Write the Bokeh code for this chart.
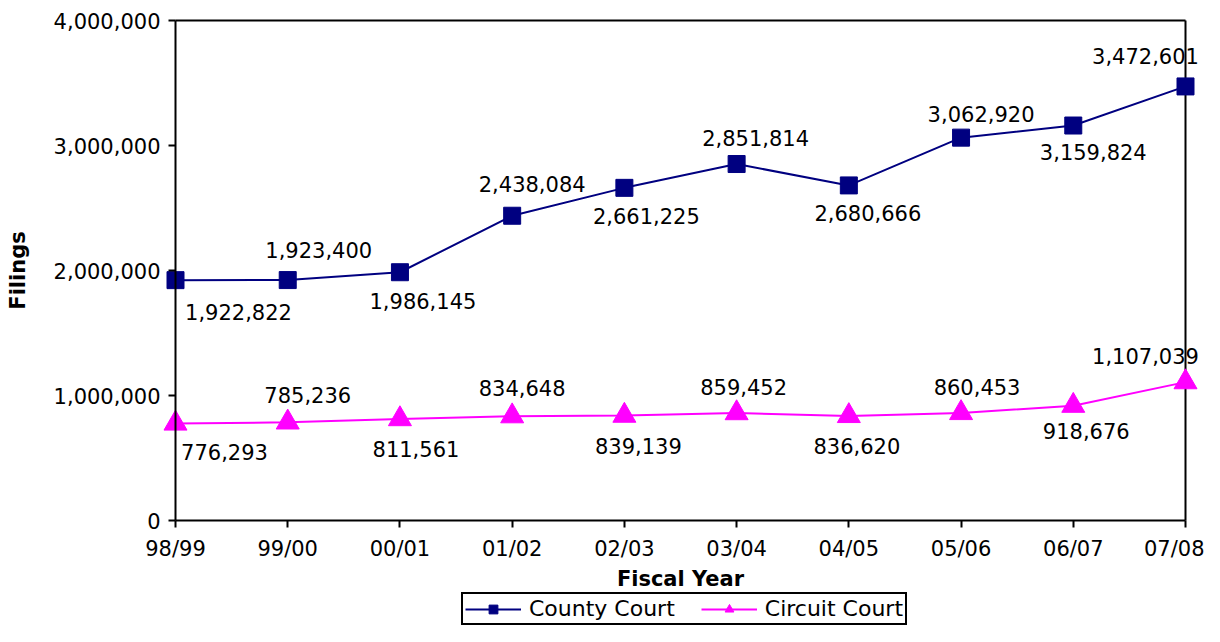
from bokeh.plotting import figure
from bokeh.models import (ColumnDataSource, FixedTicker, NumeralTickFormatter,
                          Legend, LegendItem, Range1d)
from bokeh.core.properties import value
from bokeh.embed import file_html
from bokeh.resources import INLINE

# ---------------- data ----------------
categories = ["98/99", "99/00", "00/01", "01/02", "02/03",
              "03/04", "04/05", "05/06", "06/07", "07/08"]
county_court = [1922822, 1923400, 1986145, 2438084, 2661225,
                2851814, 2680666, 3062920, 3159824, 3472601]
circuit_court = [776293, 785236, 811561, 834648, 839139,
                 859452, 836620, 860453, 918676, 1107039]
y_ticks = [0, 1000000, 2000000, 3000000, 4000000]

# ---------------- label placement (screen px, style only) ----------------
county_dx = [63, 31, 23, 20, 22, 19, 19, 20, 20, -40]
county_dy = [32, -30, 29, -32, 28, -26, 28, -24, 26, -30]
circuit_dx = [49, 20, 16, 10, 14, 7, 8, 16, 13, -40]
circuit_dy = [29, -27, 30, -28, 30, -26, 30, -26, 25, -26]

FONT = "DejaVu Sans"
NAVY = "#000080"
MAGENTA = "#FF00FF"

# layout constants (pixels); the frame fills the whole figure and the
# axes are pinned to the data origin
W, H = 1204, 626
AXIS_X = 175              # screen x of the first category
LAST_X = 1185             # screen x of the last category
PLOT_TOP = 20             # screen y of the top tick
PLOT_BOTTOM = 520         # screen y of zero

n = len(categories)
xs = list(range(n))
y_top = y_ticks[-1]
px_per_x = (LAST_X - AXIS_X) / (n - 1)
px_per_y = (PLOT_BOTTOM - PLOT_TOP) / y_top
x_start = -AXIS_X / px_per_x
x_end = (n - 1) + (W - LAST_X) / px_per_x
y_start = -(H - PLOT_BOTTOM) / px_per_y
y_end = y_top + PLOT_TOP / px_per_y


def fmt(v):
    return f"{v:,}"


county_src = ColumnDataSource(dict(x=xs, y=county_court,
                                   label=[fmt(v) for v in county_court],
                                   dx=county_dx, dy=county_dy))
circuit_src = ColumnDataSource(dict(x=xs, y=circuit_court,
                                    label=[fmt(v) for v in circuit_court],
                                    dx=circuit_dx, dy=circuit_dy))

p = figure(width=W, height=H, output_backend="svg", toolbar_location=None,
           x_range=Range1d(x_start, x_end), y_range=Range1d(y_start, y_end),
           min_border_left=0, min_border_top=0,
           min_border_right=0, min_border_bottom=0)

p.background_fill_color = "white"
p.border_fill_color = "white"
p.outline_line_color = None
p.xgrid.visible = False
p.ygrid.visible = False

# plot-area border (top and right)
p.segment(x0=[0, n - 1], y0=[y_top, 0], x1=[n - 1, n - 1], y1=[y_top, y_top],
          line_color="black", line_width=2)

# lines + markers
cl = p.line("x", "y", source=county_src, line_color=NAVY, line_width=2)
cm = p.scatter("x", "y", source=county_src, marker="square", size=17,
               fill_color=NAVY, line_color=NAVY)
rl = p.line("x", "y", source=circuit_src, line_color=MAGENTA, line_width=2)
rm = p.scatter("x", "y", source=circuit_src, marker="triangle", size=23,
               fill_color=MAGENTA, line_color=MAGENTA)

# data labels
for src in (county_src, circuit_src):
    p.text("x", "y", text="label", source=src, x_offset="dx", y_offset="dy",
           text_align="center", text_baseline="middle",
           text_font=value(FONT), text_font_size="21px", text_color="black")

# axes
p.xaxis.ticker = FixedTicker(ticks=xs)
p.xaxis.major_label_overrides = {i: c for i, c in enumerate(categories)}
p.xaxis.bounds = (0, n - 1)
p.xaxis.fixed_location = 0
p.yaxis.ticker = FixedTicker(ticks=y_ticks)
p.yaxis.formatter = NumeralTickFormatter(format="0,0")
p.yaxis.bounds = (0, y_top)
p.yaxis.fixed_location = 0

for ax in (p.xaxis[0], p.yaxis[0]):
    ax.axis_line_color = "black"
    ax.axis_line_width = 2
    ax.major_tick_line_color = "black"
    ax.major_tick_line_width = 2
    ax.major_tick_out = 7
    ax.major_tick_in = 0
    ax.minor_tick_line_color = None
    ax.major_label_text_font = FONT
    ax.major_label_text_font_size = "21px"
    ax.major_label_text_color = "black"
    ax.axis_label_text_font = FONT
    ax.axis_label_text_font_size = "21px"
    ax.axis_label_text_font_style = "bold"
    ax.axis_label_text_color = "black"

p.xaxis.axis_label = "Fiscal Year"
p.xaxis.major_label_standoff = 9
p.xaxis.axis_label_standoff = 3
p.yaxis.axis_label = "Filings"
p.yaxis.major_label_standoff = 8
p.yaxis.axis_label_standoff = 21

legend = Legend(items=[LegendItem(label="County Court", renderers=[cl, cm]),
                       LegendItem(label="Circuit Court", renderers=[rl, rm])],
                orientation="horizontal", location=(461, 1))
legend.label_text_font = FONT
legend.label_text_font_size = "22px"
legend.label_text_color = "black"
legend.glyph_width = 56
legend.glyph_height = 22
legend.label_standoff = 8
legend.spacing = 26
legend.padding = 2
legend.margin = 0
legend.border_line_color = "black"
legend.border_line_alpha = 1
legend.border_line_width = 2
legend.background_fill_color = "white"
legend.background_fill_alpha = 1
p.add_layout(legend, "center")

open("out.html", "w").write(file_html(p, INLINE))
